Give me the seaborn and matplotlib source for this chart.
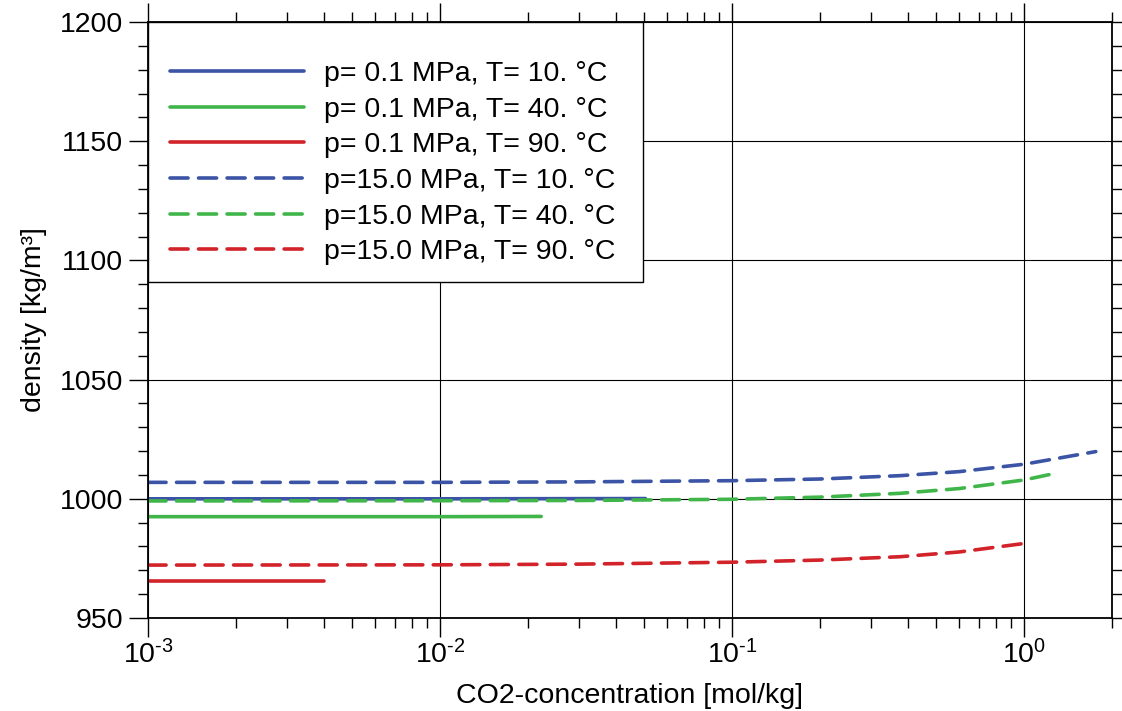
import matplotlib
matplotlib.use("Agg")
import matplotlib.pyplot as plt
import matplotlib.patches as mpatches
import seaborn as sns
import numpy as np
from matplotlib.ticker import LogLocator, MultipleLocator, FuncFormatter, NullFormatter

sns.set_theme(style="white")
plt.rcParams['font.family'] = ['Liberation Sans', 'DejaVu Sans']
plt.rcParams['mathtext.fontset'] = 'custom'
plt.rcParams['mathtext.rm'] = 'Liberation Sans'
plt.rcParams['mathtext.default'] = 'regular'
plt.rcParams['axes.unicode_minus'] = False
plt.rcParams['text.color'] = 'black'
plt.rcParams['axes.labelcolor'] = 'black'
plt.rcParams['xtick.color'] = 'black'
plt.rcParams['ytick.color'] = 'black'

# ---- data ----
labels = ["p= 0.1 MPa, T= 10. °C", "p= 0.1 MPa, T= 40. °C", "p= 0.1 MPa, T= 90. °C",
          "p=15.0 MPa, T= 10. °C", "p=15.0 MPa, T= 40. °C", "p=15.0 MPa, T= 90. °C"]

x_lp_10 = [0.001, 0.01, 0.0505]
y_lp_10 = [1000.0, 1000.0, 1000.1]
x_lp_40 = [0.001, 0.01, 0.0222]
y_lp_40 = [992.5, 992.5, 992.6]
x_lp_90 = [0.001, 0.002, 0.0040]
y_lp_90 = [965.6, 965.6, 965.6]

x_hp_10 = [0.001, 0.01, 0.03, 0.1, 0.2, 0.376, 0.6, 1.0, 1.76]
y_hp_10 = [1006.9, 1006.9, 1007.1, 1007.6, 1008.3, 1009.7, 1011.4, 1014.5, 1019.8]
x_hp_40 = [0.001, 0.01, 0.03, 0.1, 0.2, 0.376, 0.6, 1.0, 1.28]
y_hp_40 = [999.1, 999.2, 999.3, 999.8, 1000.7, 1002.3, 1004.3, 1007.9, 1010.7]
x_hp_90 = [0.001, 0.01, 0.03, 0.1, 0.2, 0.376, 0.6, 1.02]
y_hp_90 = [972.2, 972.3, 972.6, 973.4, 974.3, 975.7, 977.7, 981.4]

xs = [x_lp_10, x_lp_40, x_lp_90, x_hp_10, x_hp_40, x_hp_90]
ys = [y_lp_10, y_lp_40, y_lp_90, y_hp_10, y_hp_40, y_hp_90]

blue, green, red = "#3b54a5", "#40b64a", "#d2232a"
colors = [blue, green, red, blue, green, red]
dashed = [False, False, False, True, True, True]

W, H = 1122, 711
fig = plt.figure(figsize=(W/100, H/100), dpi=100)
ax = fig.add_axes([148/W, 1-618/H, (1112-148)/W, (618-22)/H])

for xv, yv, lab, c, d in zip(xs, ys, labels, colors, dashed):
    sns.lineplot(x=xv, y=yv, ax=ax, color=c, linewidth=2.6, label=lab,
                 sort=False, estimator=None)
    ln = ax.lines[-1]
    ln.set_solid_capstyle('round')
    if d:
        ln.set_dashes((5.0, 2.9))
        ln.set_dash_capstyle('round')

ax.set_xscale('log')
ax.set_xlim(1e-3, 2.0)
ax.set_ylim(950, 1200)


def fmt(v, p):
    e = int(round(np.log10(v)))
    if e < 0:
        return r'$10^{\text{-}%d}$' % (-e)
    return r'$10^{%d}$' % e


ax.xaxis.set_major_locator(LogLocator(base=10, numticks=10))
ax.xaxis.set_minor_locator(LogLocator(base=10, subs=np.arange(2, 10), numticks=20))
ax.xaxis.set_minor_formatter(NullFormatter())
ax.xaxis.set_major_formatter(FuncFormatter(fmt))
ax.yaxis.set_major_locator(MultipleLocator(50))
ax.yaxis.set_minor_locator(MultipleLocator(10))

ax.grid(True, which='major', color='black', linewidth=0.8)
ax.grid(False, which='minor')
for s in ax.spines.values():
    s.set_color('black')
    s.set_linewidth(1.3)
    s.set_visible(True)

ax.tick_params(which='both', direction='out', colors='black', top=True, right=True,
               bottom=True, left=True, labelsize=20.5, width=1.0)
ax.tick_params(which='major', length=14, pad=4)
ax.tick_params(which='minor', length=7)
ax.tick_params(axis='x', which='major', pad=2)

ax.set_xlabel("CO2-concentration [mol/kg]", fontsize=20.5, labelpad=10)
ax.set_ylabel("density [kg/m³]", fontsize=20.5, labelpad=9)

# legend box (frame drawn separately for exact placement)
box = mpatches.Rectangle((148/W, 1-282/H), (643-148)/W, (282-22)/H,
                         transform=fig.transFigure, facecolor='white',
                         edgecolor='black', linewidth=1.0, zorder=4.5,
                         clip_on=False)
ax.add_patch(box)

leg = ax.legend(loc='upper left', bbox_to_anchor=(170/W, 1-61/H),
                bbox_transform=fig.transFigure, borderaxespad=0, borderpad=0,
                fontsize=20.5, handlelength=4.7, handletextpad=0.72,
                labelspacing=0.34, frameon=False)
leg.set_zorder(6)

fig.savefig("out.png", dpi=100)
